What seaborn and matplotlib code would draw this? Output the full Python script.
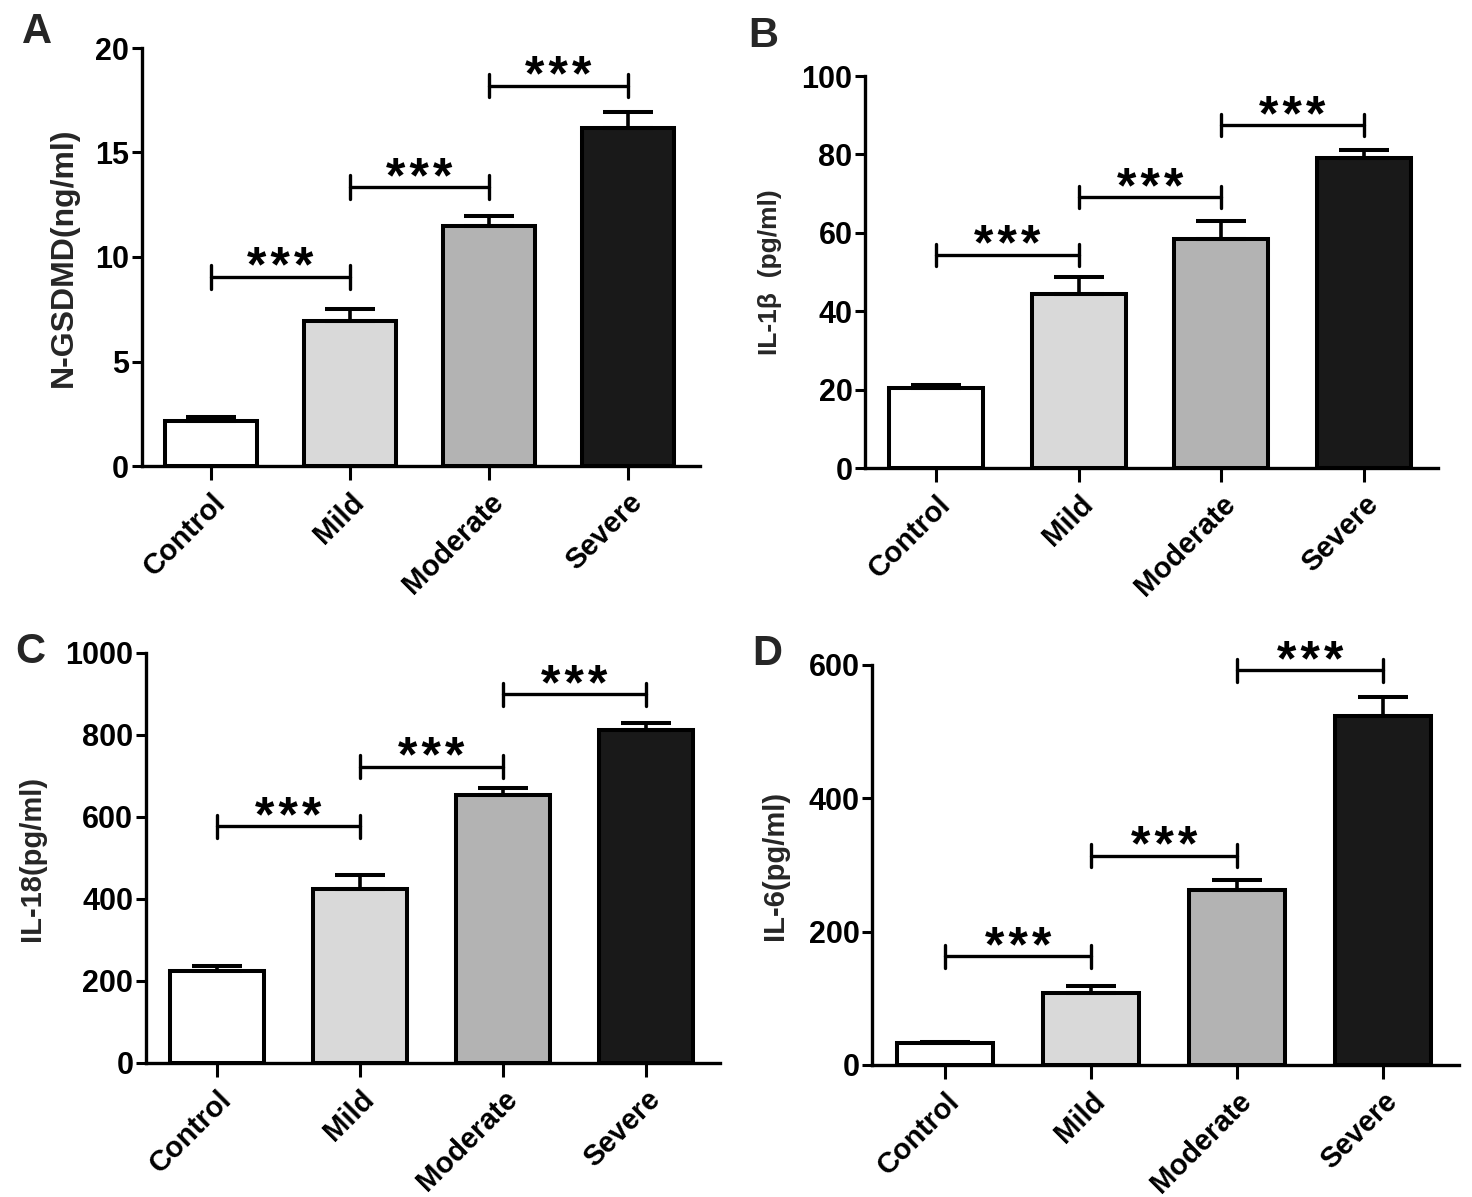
import numpy as np
import pandas as pd
import matplotlib
matplotlib.use("Agg")
import matplotlib.pyplot as plt
import seaborn as sns
from matplotlib import font_manager as fm

# ---------------- data ----------------
categories = ["Control", "Mild", "Moderate", "Severe"]
bar_colors = ["#ffffff", "#d9d9d9", "#b3b3b3", "#191919"]
pairs = [(0, 1), (1, 2), (2, 3)]
stars = ["*\u200a*\u200a*", "*\u200a*\u200a*", "*\u200a*\u200a*"]

gsdmd_mean = [2.15, 6.95, 11.5, 16.15]
gsdmd_sem = [0.2, 0.55, 0.45, 0.8]
gsdmd_brackets = [9.05, 13.35, 18.2]

il1b_mean = [20.3, 44.4, 58.4, 79.0]
il1b_sem = [0.9, 4.4, 4.5, 2.2]
il1b_brackets = [54.4, 69.1, 87.4]

il18_mean = [224, 424, 654, 813]
il18_sem = [12, 34, 16, 17]
il18_brackets = [578, 723, 899]

il6_mean = [33, 108, 263, 524]
il6_sem = [2, 11, 14, 28]
il6_brackets = [163, 314, 592]

panel_letters = ["A", "B", "C", "D"]
ylabels = ["N-GSDMD(ng/ml)", "IL-1\u03b2  (pg/ml)", "IL-18(pg/ml)", "IL-6(pg/ml)"]
yticks_list = [[0, 5, 10, 15, 20], [0, 20, 40, 60, 80, 100],
               [0, 200, 400, 600, 800, 1000], [0, 200, 400, 600]]

# ---------------- style ----------------
sns.set_theme(style="ticks")
avail = {f.name for f in fm.fontManager.ttflist}
narrow = "Liberation Sans Narrow" if "Liberation Sans Narrow" in avail else "Liberation Sans"
plt.rcParams["font.family"] = ["Liberation Sans", "DejaVu Sans"]

W, H = 1472, 1197
fig = plt.figure(figsize=(W / 100, H / 100), dpi=100)

# axes rectangles in pixel coordinates: left, right, top, bottom
rects_px = [(141.7, 700, 48, 466), (865, 1438, 76, 468),
            (145.8, 720, 653, 1063), (872, 1459, 665, 1065)]
label_sizes = [23, 19, 21, 21]
label_pads = [12, 14, 14, 14]
letter_pos = [(22, 43), (748, 47), (15, 663), (752, 665)]

means = [gsdmd_mean, il1b_mean, il18_mean, il6_mean]
sems = [gsdmd_sem, il1b_sem, il18_sem, il6_sem]
brackets = [gsdmd_brackets, il1b_brackets, il18_brackets, il6_brackets]

palette = dict(zip(categories, bar_colors))

for k in range(4):
    l, r, t, b = rects_px[k]
    ax = fig.add_axes([l / W, 1 - b / H, (r - l) / W, (b - t) / H])
    df = pd.DataFrame({"group": categories, "value": means[k]})
    sns.barplot(data=df, x="group", y="value", hue="group", order=categories,
                hue_order=categories, palette=palette, saturation=1, width=0.66,
                edgecolor="black", linewidth=2.9, errorbar=None, legend=False, ax=ax)
    xs = np.arange(len(categories))
    ax.errorbar(xs, means[k], yerr=[np.zeros(len(sems[k])), sems[k]], fmt="none",
                ecolor="black", elinewidth=2.6, capsize=18, capthick=2.9, zorder=4)
    yt = yticks_list[k]
    ymax = yt[-1]
    ax.set_ylim(0, ymax)
    ax.set_xlim(-0.5, 3.52)
    ax.set_yticks(yt)
    ax.set_yticklabels([str(v) for v in yt], fontsize=22, fontweight="bold", family=narrow)
    ax.set_xticks(xs)
    ax.set_xticklabels(categories, rotation=45, ha="right", rotation_mode="anchor",
                       fontsize=21, fontweight="bold", family=narrow)
    ax.set_xlabel("")
    ax.set_ylabel(ylabels[k], fontsize=label_sizes[k], fontweight="bold", labelpad=label_pads[k])
    sns.despine(ax=ax)
    for s in ["left", "bottom"]:
        ax.spines[s].set_linewidth(2.4)
        ax.spines[s].set_color("black")
    ax.tick_params(axis="y", length=7, width=2.2, pad=2, colors="black")
    ax.tick_params(axis="x", length=10, width=2.2, pad=6, colors="black")
    cap = 0.028 * ymax
    for (i, j), h, s in zip(pairs, brackets[k], stars):
        ax.plot([i, j], [h, h], color="black", lw=2.4, clip_on=False, zorder=5)
        ax.plot([i, i], [h - cap, h + cap], color="black", lw=2.4, clip_on=False, zorder=5)
        ax.plot([j, j], [h - cap, h + cap], color="black", lw=2.4, clip_on=False, zorder=5)
        ax.annotate(s, xy=((i + j) / 2, h), xytext=(0, -4), textcoords="offset points",
                    ha="center", va="baseline", fontsize=36, fontweight="bold",
                    color="black", family=["Liberation Sans", "DejaVu Sans"],
                    annotation_clip=False)
    px, py = letter_pos[k]
    fig.text(px / W, 1 - py / H, panel_letters[k], fontsize=30, fontweight="bold",
             ha="left", va="baseline")

fig.savefig("out.png", dpi=100, facecolor="white")
